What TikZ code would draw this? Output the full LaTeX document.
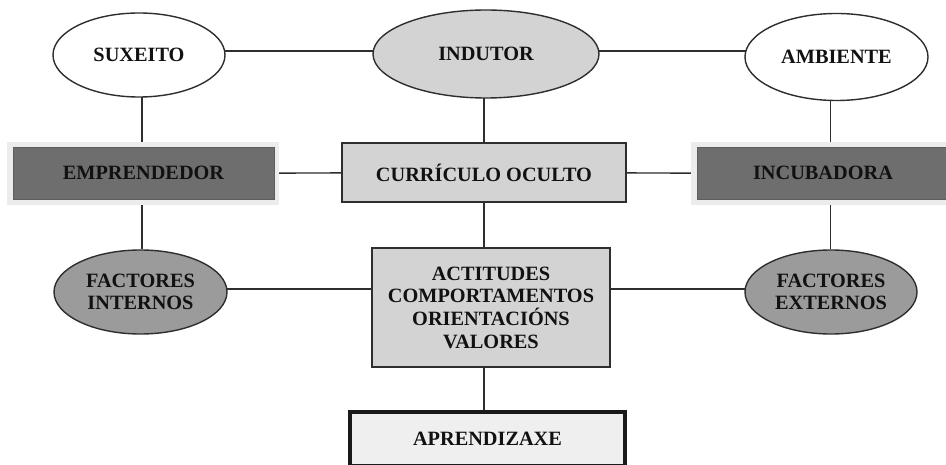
\documentclass[tikz,border=0pt]{standalone}
\usepackage{fontspec}
\setmainfont{Liberation Serif}
\usetikzlibrary{shapes.geometric,backgrounds}
\definecolor{lightg}{HTML}{D3D3D3}
\definecolor{midg}{HTML}{9B9B9B}
\definecolor{darkg}{HTML}{6E6E6E}
\definecolor{haloc}{HTML}{ECECEC}
\definecolor{palec}{HTML}{EFEFEF}
\definecolor{edgec}{HTML}{2E2E2E}
\definecolor{txtc}{HTML}{111111}
\tikzset{
  lbl/.style={font=\fontsize{20.3}{22.7}\selectfont\bfseries, text=txtc, align=center, inner sep=0pt},
  oval/.style={lbl, ellipse, draw=edgec, line width=1.4pt},
  boxc/.style={lbl, rectangle, draw=edgec, line width=1.4pt, fill=lightg},
  darkbox/.style={lbl, rectangle, fill=darkg, draw=darkg!85!black, line width=0.6pt},
  halo/.style={rectangle, fill=haloc, draw=none, inner sep=0pt},
  link/.style={draw=edgec, line width=1.4pt}
}
\begin{document}
\begin{tikzpicture}[x=1pt,y=-1pt]
\useasboundingbox (0,0) rectangle (946,465);
\clip (0,0) rectangle (946,465);
% top row
\node[oval, fill=white, minimum width=172pt, minimum height=84pt] (sux) at (139,55) {SUXEITO};
\node[oval, fill=lightg, minimum width=226pt, minimum height=88pt] (ind) at (486,54) {INDUTOR};
\node[oval, fill=white, minimum width=183pt, minimum height=87pt] (amb) at (836.5,57) {AMBIENTE};
% middle row
\node[halo, minimum width=272pt, minimum height=63pt] (empH) at (143,173.5) {};
\node[darkbox, minimum width=261pt, minimum height=52pt] (emp) at (143.5,173) {EMPRENDEDOR};
\node[boxc, minimum width=284pt, minimum height=59pt] (cur) at (484,172.5) {CURRÍCULO OCULTO};
\node[halo, minimum width=262pt, minimum height=63pt] (incH) at (822,173.5) {};
\node[darkbox, minimum width=252pt, minimum height=52pt] (inc) at (823,173) {INCUBADORA};
% lower row
\node[oval, fill=midg, minimum width=173pt, minimum height=84pt] (fin) at (140.5,292) {FACTORES\\INTERNOS};
\node[boxc, minimum width=238pt, minimum height=119pt] (act) at (491,307.5) {ACTITUDES\\COMPORTAMENTOS\\ORIENTACIÓNS\\VALORES};
\node[oval, fill=midg, minimum width=172pt, minimum height=84pt] (fex) at (831,292) {FACTORES\\EXTERNOS};
% bottom
\node[lbl, rectangle, draw=black!90, line width=4.5pt, fill=palec, minimum width=275pt, minimum height=54pt] (apr) at (487.5,439) {APRENDIZAXE};
% connectors
\begin{scope}[on background layer]
\fill[white] (0,0) rectangle (946,465);
\draw[link] ([yshift=4pt]sux.center) -- ([yshift=3pt]ind.center);
\draw[link] ([yshift=3pt]ind.center) -- ([yshift=6pt]amb.center);
\draw[link] ([xshift=3pt]sux.center) -- ([xshift=3pt]sux.center |- empH.north);
\draw[link] ([xshift=-2pt]ind.center) -- ([xshift=-2pt]ind.center |- cur.north);
\draw[link] ([xshift=-6pt]amb.center) -- ([xshift=-6pt]amb.center |- incH.north);
\draw[link] (empH.center) -- (cur.center);
\draw[link] (cur.center) -- (incH.center);
\draw[link] ([xshift=3pt]sux.center |- empH.south) -- ([xshift=3pt]sux.center |- fin.north);
\draw[link] (cur.center) -- (cur.center |- act.north);
\draw[link] ([xshift=-6pt]amb.center |- incH.south) -- ([xshift=-6pt]amb.center |- fex.north);
\draw[link] ([yshift=3pt]fin.center) -- ([yshift=3pt]fin.center -| act.west);
\draw[link] ([yshift=3pt]fex.center) -- ([yshift=3pt]fex.center -| act.east);
\draw[link] (cur.center |- act.south) -- (cur.center |- apr.north);
\end{scope}
\end{tikzpicture}
\end{document}
